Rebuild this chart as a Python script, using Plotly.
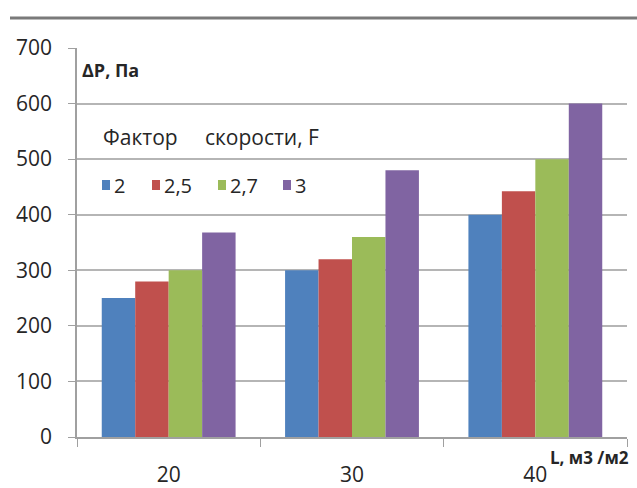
import plotly.graph_objects as go

categories = ["20", "30", "40"]
series_names = ["2", "2,5", "2,7", "3"]
values_f2 = [250, 300, 400]
values_f25 = [280, 320, 442]
values_f27 = [300, 360, 500]
values_f3 = [368, 480, 600]
colors = ["#4F81BD", "#C0504D", "#9BBB59", "#8064A2"]

all_values = [values_f2, values_f25, values_f27, values_f3]

FONT = "Open Sans"
TXT = "#262626"

fig = go.Figure()
for name, vals, col in zip(series_names, all_values, colors):
    fig.add_trace(go.Bar(x=categories, y=vals, name=name, marker_color=col,
                         marker_line_width=0, showlegend=False))

W, H = 637, 488
L, R, T, B = 77, 10, 48, 51
pw = W - L - R
ph = H - T - B

def px_x(x):
    return (x - L) / pw

def px_y(y):
    return (H - B - y) / ph

fig.update_layout(
    width=W, height=H,
    margin=dict(l=L, r=R, t=T, b=B, autoexpand=False),
    paper_bgcolor="white", plot_bgcolor="white",
    barmode="group", bargap=0.27, bargroupgap=0,
    font=dict(family=FONT, size=20, color=TXT),
    showlegend=False,
    xaxis=dict(type="category", showgrid=False, showline=True, linecolor="#a0a0a0", linewidth=1.5,
               ticks="outside", tickson="boundaries", ticklen=8, tickcolor="#a0a0a0",
               tickfont=dict(family=FONT, size=21, color=TXT), ticklabelstandoff=18,
               automargin=False),
    yaxis=dict(range=[0, 700], dtick=100, showgrid=True, gridcolor="#b5b5b5", gridwidth=1.5,
               showline=True, linecolor="#a0a0a0", linewidth=1.5, ticks="outside", ticklen=7,
               tickcolor="#a0a0a0", zeroline=False, automargin=False,
               tickfont=dict(family=FONT, size=21, color=TXT), ticklabelstandoff=12),
)

# legend (manual, Excel-like compact layout)
legend_x = [102, 152, 218, 283]
legend_y = 185
for name, col, lx in zip(series_names, colors, legend_x):
    fig.add_shape(type="rect", xref="paper", yref="paper",
                  x0=px_x(lx), x1=px_x(lx + 8), y0=px_y(legend_y - 5), y1=px_y(legend_y + 5),
                  fillcolor=col, line=dict(width=0))
    fig.add_annotation(text=name, xref="paper", yref="paper", x=px_x(lx + 10), y=px_y(legend_y),
                       xanchor="left", yanchor="middle", showarrow=False,
                       font=dict(family=FONT, size=20, color=TXT))

fig.add_annotation(text="<b>ΔP, Па</b>", xref="paper", yref="paper", x=px_x(80), y=px_y(70),
                   xanchor="left", yanchor="middle", showarrow=False,
                   font=dict(family=FONT, size=18, color=TXT))
fig.add_annotation(text="Фактор     скорости, F", xref="paper", yref="paper", x=px_x(101), y=px_y(137),
                   xanchor="left", yanchor="middle", showarrow=False,
                   font=dict(family=FONT, size=21, color=TXT))
fig.add_annotation(text="<b>L, м3 /м2</b>", xref="paper", yref="paper", x=px_x(548), y=px_y(457),
                   xanchor="left", yanchor="middle", showarrow=False,
                   font=dict(family=FONT, size=17, color=TXT))

fig.add_shape(type="line", xref="paper", yref="paper", x0=px_x(10), x1=px_x(640),
              y0=px_y(18), y1=px_y(18), line=dict(color="#7a7a7a", width=3))

fig.write_html("out.html")
